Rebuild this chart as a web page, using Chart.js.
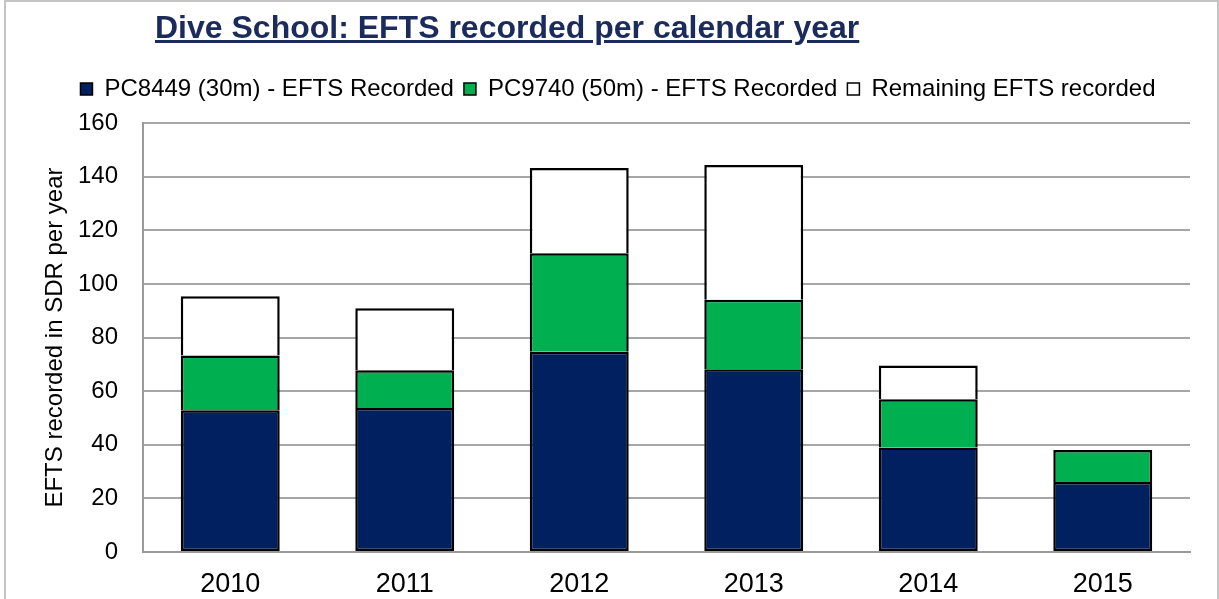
<!DOCTYPE html>
<html>
<head>
<meta charset="utf-8">
<script src="https://cdn.jsdelivr.net/npm/chart.js@4/dist/chart.umd.min.js"></script>
<style>
  html, body { margin: 0; padding: 0; background: #ffffff; }
  #wrap { position: relative; width: 1219px; height: 599px; overflow: hidden; }
  #frame { position: absolute; left: 4px; top: 0px; width: 1211px; height: 620px;
           border-left: 2px solid #c4c4c4; border-top: 2px solid #c4c4c4; border-right: 2px solid #c4c4c4; }
  #title { position: absolute; left: 155px; top: 11px; font: bold 32px 'Liberation Sans', Arial, sans-serif;
           line-height: 32px; color: #1a2b5c; text-decoration: underline; text-decoration-thickness: 3px;
           white-space: nowrap; }
  canvas { position: absolute; left: 0; top: 0; }
</style>
</head>
<body>
<div id="wrap">
  <canvas id="c" width="1219" height="599"></canvas>
  <div id="frame"></div>
  <div id="title">Dive School: EFTS recorded per calendar year</div>
</div>
<script>
const years = ['2010', '2011', '2012', '2013', '2014', '2015'];
const pc8449 = [52.9, 53.7, 74.7, 68.2, 39.0, 26.1];
const pc9740 = [20.4, 14.1, 36.7, 25.9, 18.0, 11.9];
const remaining = [22.1, 23.1, 31.8, 50.2, 12.6, null];
const seriesNames = ['PC8449 (30m) - EFTS Recorded', 'PC9740 (50m) - EFTS Recorded', 'Remaining EFTS recorded'];
const yTitle = 'EFTS recorded in SDR per year';

const FONT = "'Liberation Sans', Arial, sans-serif";

const legendSpacer = {
  id: 'legendSpacer',
  beforeLayout(chart) {
    const lg = chart.legend;
    if (lg && !lg._spaced) {
      const orig = lg.fit;
      lg.fit = function () { orig.call(this); this.height += 12; };
      lg._spaced = true;
    }
  }
};

const barCommon = { borderColor: '#000000', borderWidth: 2.5,
                    categoryPercentage: 1.0, barPercentage: 0.567 };

new Chart(document.getElementById('c'), {
  type: 'bar',
  data: {
    labels: years,
    datasets: [
      Object.assign({ label: seriesNames[0], data: pc8449, backgroundColor: '#002060' }, barCommon, { borderSkipped: false }),
      Object.assign({ label: seriesNames[1], data: pc9740, backgroundColor: '#00b050' }, barCommon, { borderSkipped: 'bottom' }),
      Object.assign({ label: seriesNames[2], data: remaining, backgroundColor: '#ffffff' }, barCommon, { borderSkipped: 'bottom' })
    ]
  },
  plugins: [legendSpacer],
  options: {
    responsive: false,
    animation: false,
    devicePixelRatio: 1,
    layout: { padding: { left: 46, right: 29, top: 67, bottom: 0 } },
    plugins: {
      title: { display: false },
      tooltip: { enabled: false },
      legend: {
        display: true,
        position: 'top',
        labels: {
          color: '#000000',
          font: { family: FONT, size: 24 },
          boxWidth: 12,
          boxHeight: 12,
          padding: 10,
          generateLabels(chart) {
            const items = Chart.defaults.plugins.legend.labels.generateLabels(chart);
            items.forEach(it => { it.lineWidth = 1.5; });
            return items;
          }
        }
      }
    },
    scales: {
      x: {
        stacked: true,
        grid: { display: false, drawTicks: false },
        border: { display: true, color: '#9a9a9a', width: 2 },
        ticks: { color: '#000000', font: { family: FONT, size: 27 }, padding: 16, maxRotation: 0 },
        afterFit(scale) { scale.height = 47; }
      },
      y: {
        stacked: true,
        min: 0,
        max: 160,
        grid: { color: '#a6a6a6', lineWidth: 2, drawTicks: false },
        border: { display: true, color: '#9a9a9a', width: 2 },
        ticks: { stepSize: 20, color: '#000000', font: { family: FONT, size: 24 }, padding: 25 },
        title: { display: true, text: yTitle, color: '#000000',
                 font: { family: FONT, size: 24, lineHeight: 1.2 }, padding: { top: -5.4, bottom: 0 } },
        afterFit(scale) { scale.width = 97; }
      }
    }
  }
});
</script>
</body>
</html>
